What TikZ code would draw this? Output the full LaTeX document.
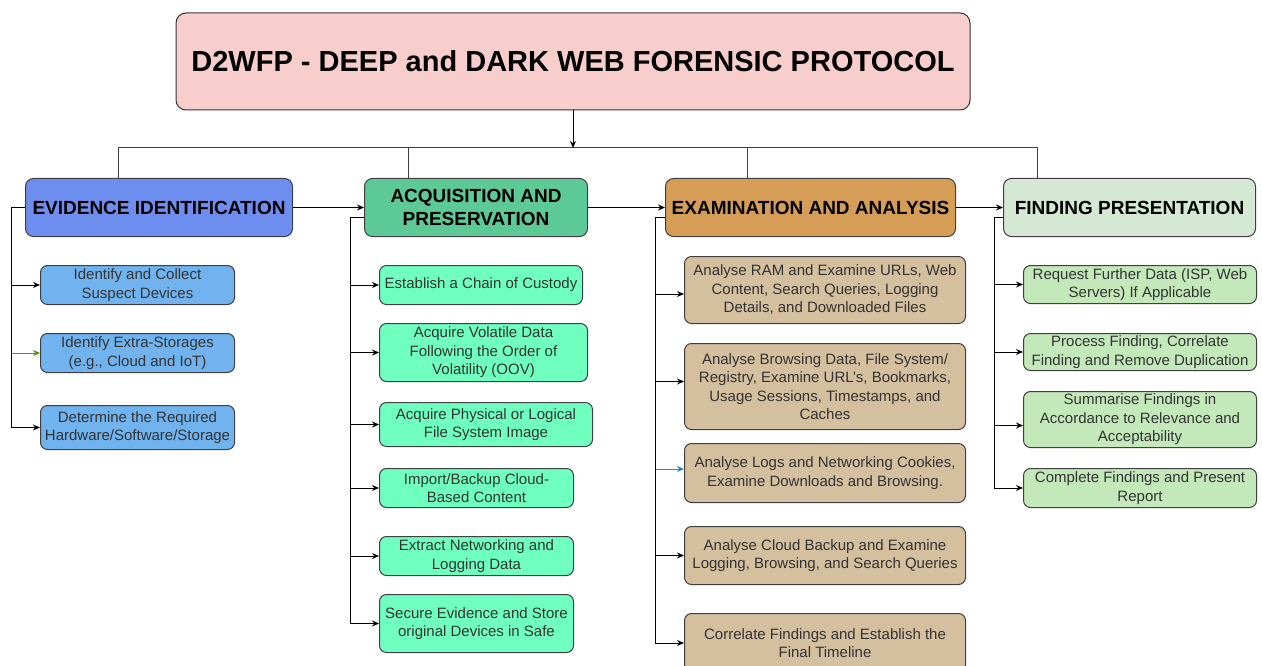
\documentclass[tikz,border=0pt]{standalone}
\usepackage{fontspec}
\setmainfont{Liberation Sans}
\usetikzlibrary{positioning,arrows.meta}

\definecolor{bannerpink}{HTML}{F8CECC}
\definecolor{evblue}{HTML}{6D8EEE}
\definecolor{evsub}{HTML}{70B3EF}
\definecolor{acqgreen}{HTML}{5CC997}
\definecolor{acqsub}{HTML}{6FFFBF}
\definecolor{exaorange}{HTML}{D59D55}
\definecolor{exasub}{HTML}{D4BF9F}
\definecolor{fingreen}{HTML}{D5E8D4}
\definecolor{finsub}{HTML}{C3E8BA}
\definecolor{arrowgreen}{HTML}{4D9900}
\definecolor{arrowblue}{HTML}{1B89C2}
\definecolor{subtext}{HTML}{333333}

\newcommand{\subfont}{\fontsize{15}{18.5}\selectfont}
\newcommand{\headfont}{\fontsize{19}{23}\selectfont\bfseries}
\newcommand{\bannerfont}{\fontsize{29}{34}\selectfont\bfseries}

\begin{document}
\begin{tikzpicture}[
    x=1pt, y=1pt,
    banner/.style={rectangle, rounded corners=10pt, draw=black!80, line width=1pt, fill=bannerpink, font=\bannerfont, text=black, align=center},
    head/.style={rectangle, rounded corners=8pt, draw=black!75, line width=1pt, font=\headfont, text=black, align=center, inner sep=2pt, minimum height=58pt},
    sub/.style={rectangle, rounded corners=7pt, draw=black!75, line width=1pt, font=\subfont, text=subtext, align=center, inner sep=1pt, anchor=north west},
    stack/.style={anchor=north west},
    evbox/.style={sub, fill=evsub},
    acqbox/.style={sub, fill=acqsub},
    exabox/.style={sub, fill=exasub},
    finbox/.style={sub, fill=finsub},
    tree/.style={line width=1pt, black!75},
    arrow/.style={line width=1pt, -{Stealth[length=7pt,width=6pt]}}
]
\useasboundingbox (0,0) rectangle (1262,-666);
\fill[white] (0,0) rectangle (1262,-666);

% Protocol title
\node[banner, minimum width=794pt, minimum height=97pt] (proto) at (573,-61.5) {D2WFP - DEEP and DARK WEB FORENSIC PROTOCOL};

% Phases
\node[head, fill=evblue, minimum width=267pt, anchor=north west] (ev) at (25,-178) {EVIDENCE IDENTIFICATION};
\node[head, fill=acqgreen, minimum width=223pt, right=71pt of ev] (acq) {ACQUISITION AND\\PRESERVATION};
\node[head, fill=exaorange, minimum width=290pt, right=77pt of acq] (exa) {EXAMINATION AND ANALYSIS};
\node[head, fill=fingreen, minimum width=252pt, right=47pt of exa] (fin) {FINDING PRESENTATION};

% Evidence identification
\node[evbox, minimum width=194pt, minimum height=39pt] (ev1) at (40,-265) {Identify and Collect\\Suspect Devices};
\node[evbox, minimum width=194pt, minimum height=39pt, below=28pt of ev1.south west, stack] (ev2) {Identify Extra-Storages\\(e.g., Cloud and IoT)};
\node[evbox, minimum width=194pt, minimum height=44pt, below=32pt of ev2.south west, stack] (ev3) {Determine the Required\\Hardware/Software/Storage};

% Acquisition and preservation
\node[acqbox, minimum width=203pt, minimum height=39pt] (acq1) at (379,-265) {Establish a Chain of Custody};
\node[acqbox, minimum width=208pt, minimum height=58pt, below=18pt of acq1.south west, stack] (acq2) {Acquire Volatile Data\\Following the Order of\\Volatility (OOV)};
\node[acqbox, minimum width=213pt, minimum height=44pt, below=20pt of acq2.south west, stack] (acq3) {Acquire Physical or Logical\\File System Image};
\node[acqbox, minimum width=194pt, minimum height=39pt, below=21pt of acq3.south west, stack] (acq4) {Import/Backup Cloud-\\Based Content};
\node[acqbox, minimum width=194pt, minimum height=39pt, below=28pt of acq4.south west, stack] (acq5) {Extract Networking and\\Logging Data};
\node[acqbox, minimum width=194pt, minimum height=58pt, below=18pt of acq5.south west, stack] (acq6) {Secure Evidence and Store\\original Devices in Safe};

% Examination and analysis
\node[exabox, minimum width=281pt, minimum height=67pt] (exa1) at (684,-256) {Analyse RAM and Examine URLs, Web\\Content, Search Queries, Logging\\Details, and Downloaded Files};
\node[exabox, minimum width=281pt, minimum height=86pt, below=19pt of exa1.south west, stack] (exa2) {Analyse Browsing Data, File System/\\Registry, Examine URL’s, Bookmarks,\\Usage Sessions, Timestamps, and\\Caches};
\node[exabox, minimum width=281pt, minimum height=59pt, below=13pt of exa2.south west, stack] (exa3) {Analyse Logs and Networking Cookies,\\Examine Downloads and Browsing.};
\node[exabox, minimum width=281pt, minimum height=58pt, below=23pt of exa3.south west, stack] (exa4) {Analyse Cloud Backup and Examine\\Logging, Browsing, and Search Queries};
\node[exabox, minimum width=281pt, minimum height=59pt, below=28pt of exa4.south west, stack] (exa5) {Correlate Findings and Establish the\\Final Timeline};

% Finding presentation
\node[finbox, minimum width=233pt, minimum height=38pt] (fin1) at (1023,-265) {Request Further Data (ISP, Web\\Servers) If Applicable};
\node[finbox, minimum width=233pt, minimum height=37pt, below=29pt of fin1.south west, stack] (fin2) {Process Finding, Correlate\\Finding and Remove Duplication};
\node[finbox, minimum width=233pt, minimum height=56pt, below=20pt of fin2.south west, stack] (fin3) {Summarise Findings in\\Accordance to Relevance and\\Acceptability};
\node[finbox, minimum width=233pt, minimum height=39pt, below=20pt of fin3.south west, stack] (fin4) {Complete Findings and Present\\Report};

% Tree from the title
\coordinate (hub) at (573,-148);
\draw[arrow] (proto) -- (hub);
\draw[tree] ([xshift=-40.5pt]ev.north) |- (hub);
\draw[tree] ([xshift=-67.5pt]acq.north) |- (hub);
\draw[tree] ([xshift=-63pt]exa.north) |- (hub);
\draw[tree] ([xshift=-92pt]fin.north) |- (hub);

% Phase to phase
\draw[arrow] (ev) -- (acq);
\draw[arrow] (acq) -- (exa);
\draw[arrow] (exa) -- (fin);

% Phase to steps
\foreach \i/\c in {1/black,2/arrowgreen,3/black}
  \draw[arrow, \c] (ev.west) -- ++(-14pt,0) |- (ev\i);
\foreach \i in {1,...,6}
  \draw[arrow] ([yshift=-10pt]acq.west) -- ++(-14pt,0) |- (acq\i);
\foreach \i/\dy/\c in {1/-4/black,2/5/black,3/4/arrowblue,4/0/black,5/0/black}
  \draw[arrow, \c] ([yshift=-10pt]exa.west) -- ++(-10pt,0) |- ([yshift=\dy pt]exa\i.west);
\foreach \i/\dy in {1/0,2/0,3/-6,4/0}
  \draw[arrow] ([yshift=-10pt]fin.west) -- ++(-9pt,0) |- ([yshift=\dy pt]fin\i.west);

\end{tikzpicture}
\end{document}
